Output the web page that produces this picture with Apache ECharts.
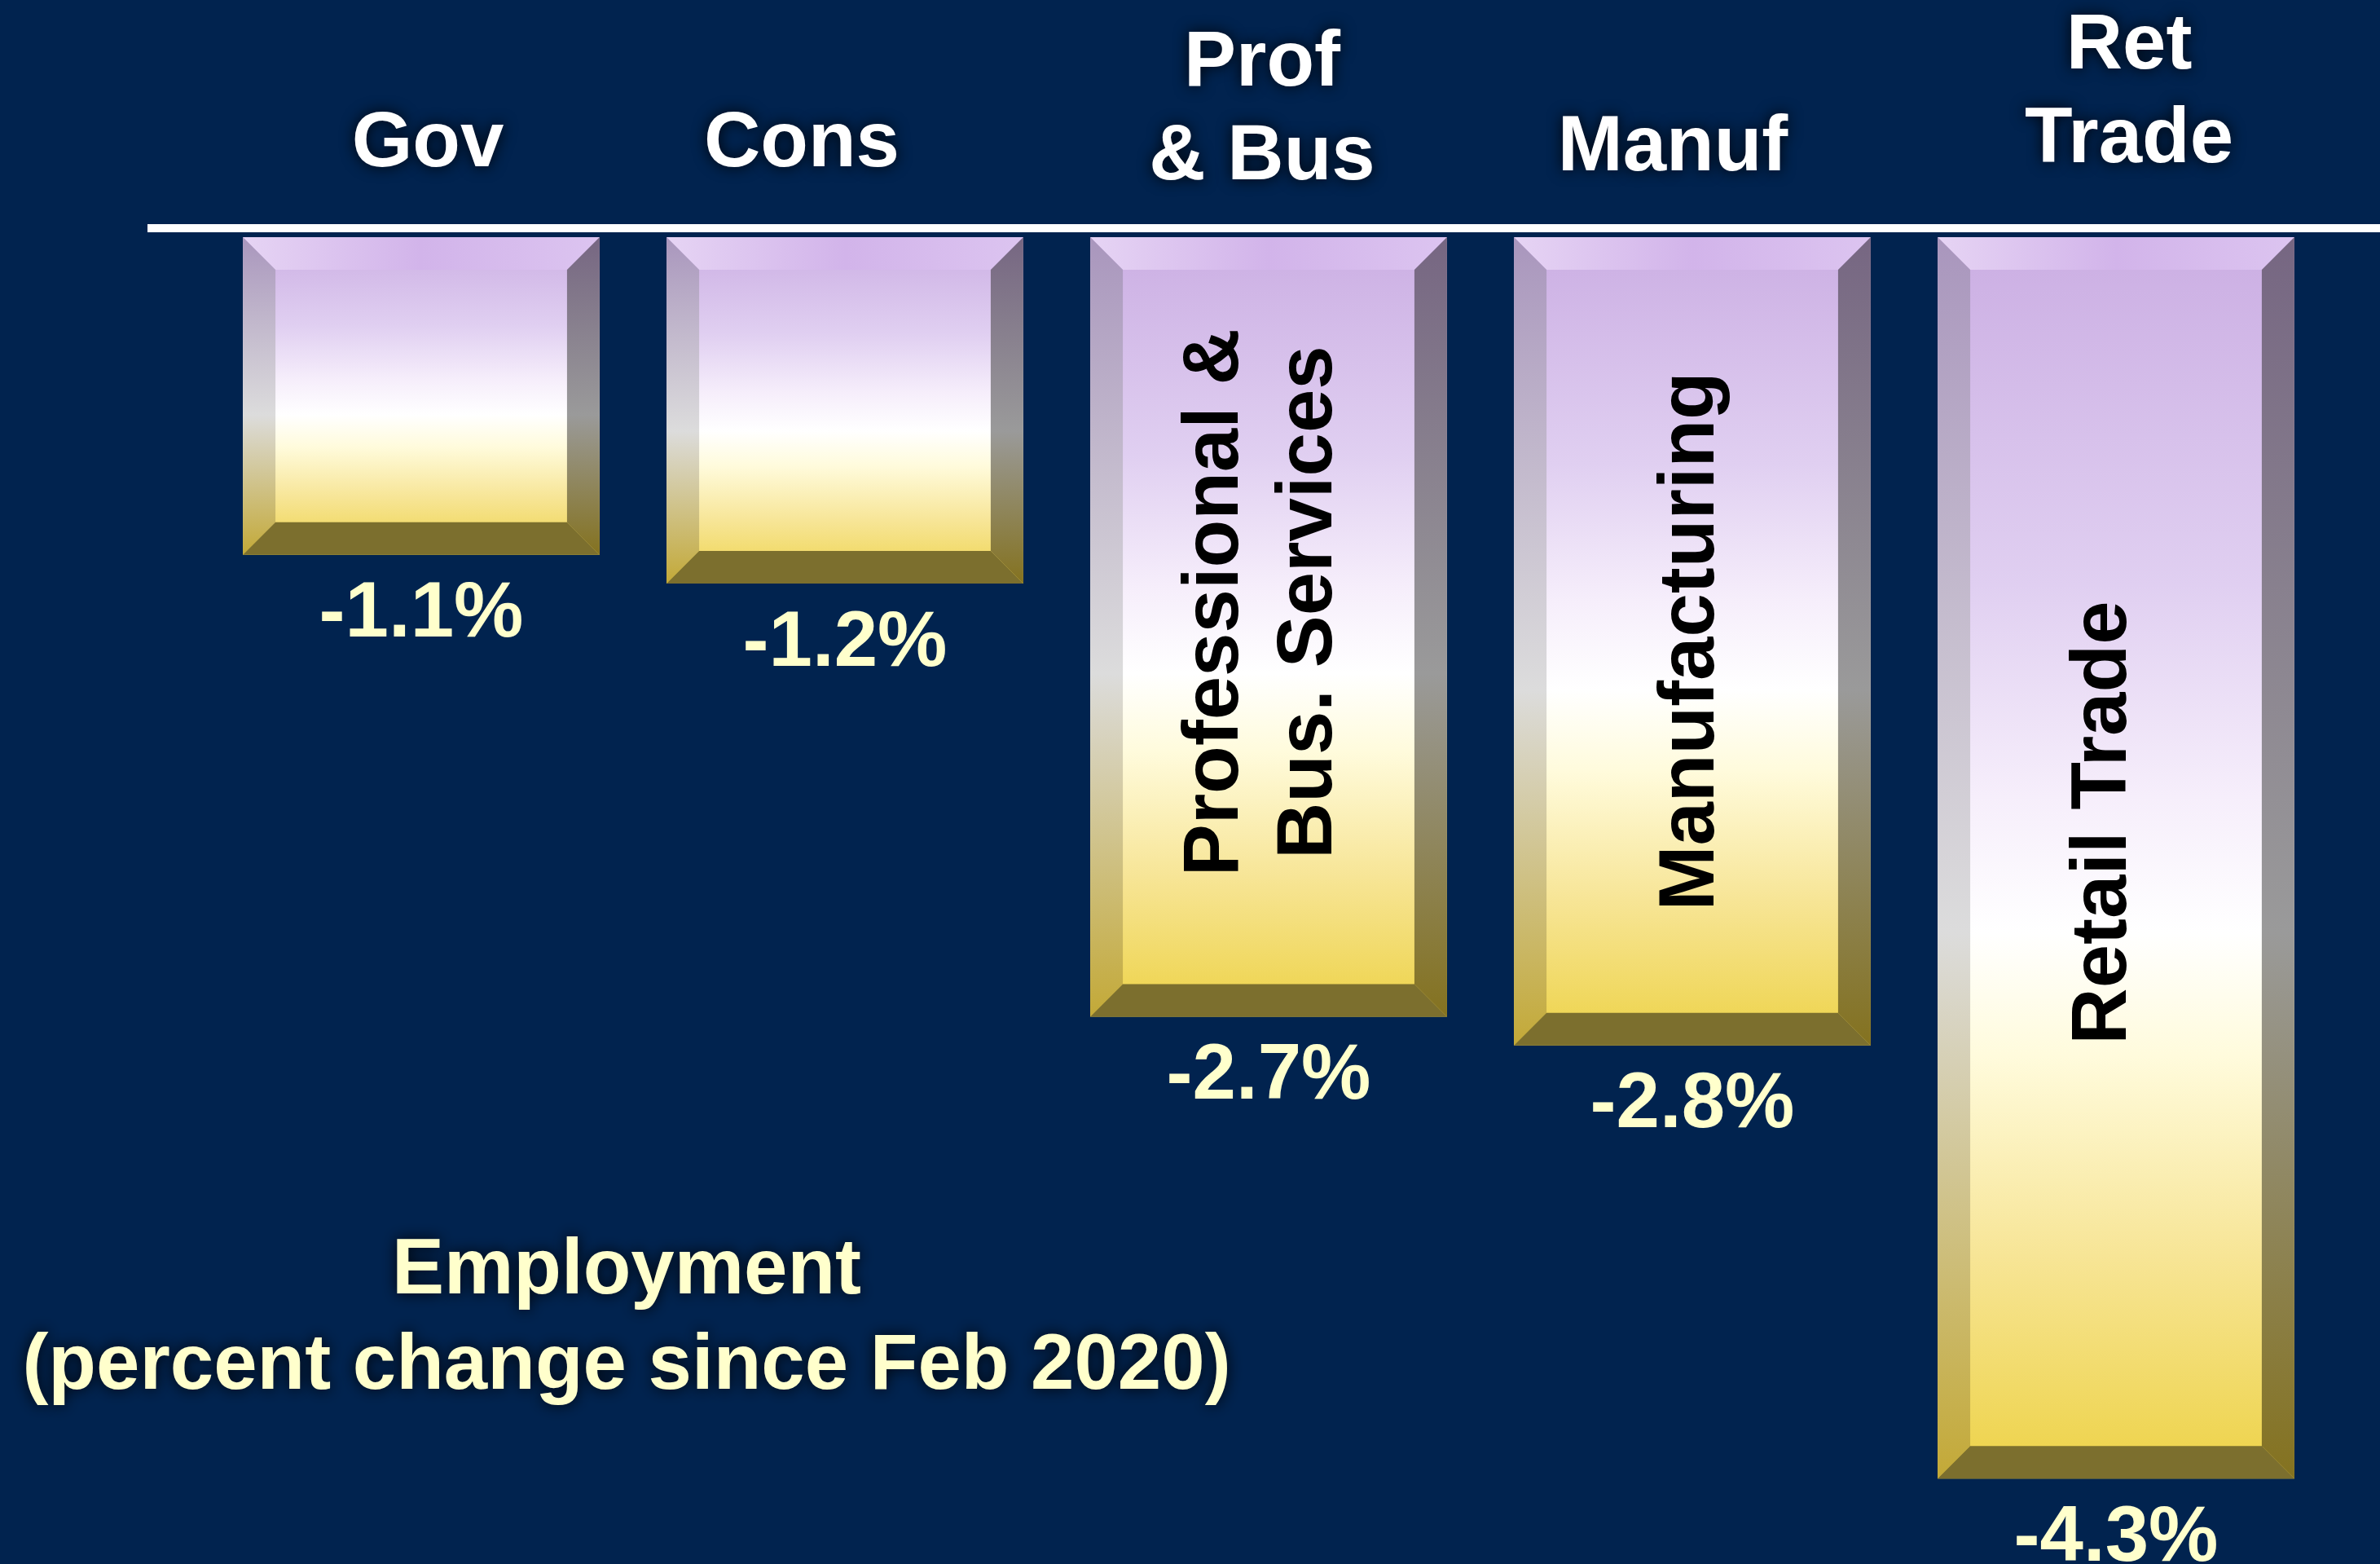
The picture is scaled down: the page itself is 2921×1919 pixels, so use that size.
<!DOCTYPE html>
<html>
<head>
<meta charset="utf-8">
<script src="https://cdn.jsdelivr.net/npm/echarts@6/dist/echarts.min.js"></script>
<style>
html,body{margin:0;padding:0;background:#01234F;}
#chart{width:2921px;height:1919px;}
</style>
</head>
<body>
<div id="chart"></div>
<script>
// ---- data ----
var categories = ['Gov', 'Cons', 'Prof\n& Bus', 'Manuf', 'Ret\nTrade'];
var values = [-1.1, -1.2, -2.7, -2.8, -4.3];
var valueLabels = ['-1.1%', '-1.2%', '-2.7%', '-2.8%', '-4.3%'];
var innerLabels = ['', '', 'Professional &\nBus. Services', 'Manufacturing', 'Retail Trade'];
var titleLines = ['Employment', '(percent change since Feb 2020)'];

// ---- presentation (not data) ----
var FONT = '"Liberation Sans", Arial, sans-serif';
var topLabelPad = [[0, 0, 36, 16], [0, 106, 36, 0], [0, 16, 20, 0], [0, 48, 31, 0], [0, 0, 41, 32]];
var innerShift = [[0, 0], [0, 0], [-7, -30], [0, 0], [-14, -43]]; // [dx, dy]

var chart = echarts.init(document.getElementById('chart'), null, {renderer: 'canvas'});

var faceGrad = function () {
  return new echarts.graphic.LinearGradient(0, 0, 0, 1, [
    {offset: 0, color: '#cbaee3'},
    {offset: 0.28, color: '#e0cff1'},
    {offset: 0.45, color: '#f6eefb'},
    {offset: 0.56, color: '#ffffff'},
    {offset: 0.66, color: '#fffbdc'},
    {offset: 0.82, color: '#f7e596'},
    {offset: 1, color: '#edd246'}
  ]);
};

var xData = categories.map(function (c, i) {
  return {
    value: c,
    textStyle: {padding: topLabelPad[i]}
  };
});

var option = {
  backgroundColor: '#01234F',
  animation: false,
  grid: {left: 257, right: 64, top: 290, bottom: 34},
  xAxis: {
    type: 'category',
    position: 'top',
    data: xData,
    axisLine: {show: false},
    axisTick: {show: false},
    axisLabel: {
      interval: 0,
      margin: 20,
      color: '#ffffff',
      fontFamily: FONT,
      fontWeight: 'bold',
      fontSize: 96,
      lineHeight: 115,
      textShadowColor: 'rgba(0,0,0,0.9)',
      textShadowBlur: 18
    }
  },
  yAxis: {
    type: 'value',
    min: -4.5,
    max: 0,
    show: false
  },
  graphic: [
    {
      type: 'rect',
      shape: {x: 181, y: 275, width: 2740, height: 10},
      style: {fill: '#ffffff'},
      z: 10
    },
    {
      type: 'text',
      x: 769,
      y: 1502,
      style: {
        text: titleLines.join('\n'),
        align: 'center',
        verticalAlign: 'top',
        fill: '#FFFFCC',
        font: 'bold 96px ' + FONT,
        lineHeight: 117,
        textShadowColor: 'rgba(0,0,0,0.9)',
        textShadowBlur: 18
      },
      z: 10
    }
  ],
  series: [{
    type: 'custom',
    encode: {x: 0, y: 1},
    data: values.map(function (v, i) { return [i, v]; }),
    renderItem: function (params, api) {
      var i = params.dataIndex;
      var v = api.value(1);
      var pTop = api.coord([api.value(0), 0]);
      var pBot = api.coord([api.value(0), v]);
      var w = api.size([1, 0])[0] * 0.842;
      var cx = pTop[0];
      var x0 = cx - w / 2, x1 = cx + w / 2, y0 = pTop[1], y1 = pBot[1];
      var h = y1 - y0;
      var b = 40;
      var children = [
        {type: 'rect', shape: {x: x0, y: y0, width: w, height: h}, style: {fill: faceGrad()}},
        {type: 'polygon', shape: {points: [[x0, y0], [x1, y0], [x1 - b, y0 + b], [x0 + b, y0 + b]]},
          style: {fill: new echarts.graphic.LinearGradient(0, 0, 1, 0, [
            {offset: 0, color: '#e6d4f4'}, {offset: 0.5, color: '#d2b4ea'}, {offset: 1, color: '#dcc4f0'}])}},
        {type: 'polygon', shape: {points: [[x0, y0], [x0 + b, y0 + b], [x0 + b, y1 - b], [x0, y1]]},
          style: {fill: new echarts.graphic.LinearGradient(0, 0, 0, 1, [
            {offset: 0, color: '#a996bd'}, {offset: 0.56, color: '#dcdcdc'}, {offset: 1, color: '#c3a937'}])}},
        {type: 'polygon', shape: {points: [[x1, y0], [x1, y1], [x1 - b, y1 - b], [x1 - b, y0 + b]]},
          style: {fill: new echarts.graphic.LinearGradient(0, 0, 0, 1, [
            {offset: 0, color: '#766682'}, {offset: 0.56, color: '#9a9a9a'}, {offset: 1, color: '#84721f'}])}},
        {type: 'polygon', shape: {points: [[x0, y1], [x1, y1], [x1 - b, y1 - b], [x0 + b, y1 - b]]},
          style: {fill: '#7c6f2e'}},
        {type: 'text', x: cx, y: y1 + 26,
          style: {text: valueLabels[i], align: 'center', verticalAlign: 'top', lineHeight: 96,
            fill: '#FFFFCC', font: 'bold 96px ' + FONT}}
      ];
      if (innerLabels[i]) {
        children.push({
          type: 'text',
          x: cx + innerShift[i][0],
          y: (y0 + y1) / 2 + innerShift[i][1],
          rotation: Math.PI / 2,
          style: {text: innerLabels[i], align: 'center', verticalAlign: 'middle', lineHeight: 115,
            fill: '#000000', font: 'bold 96px ' + FONT}
        });
      }
      return {type: 'group', children: children};
    }
  }]
};
chart.setOption(option);
</script>
</body>
</html>
